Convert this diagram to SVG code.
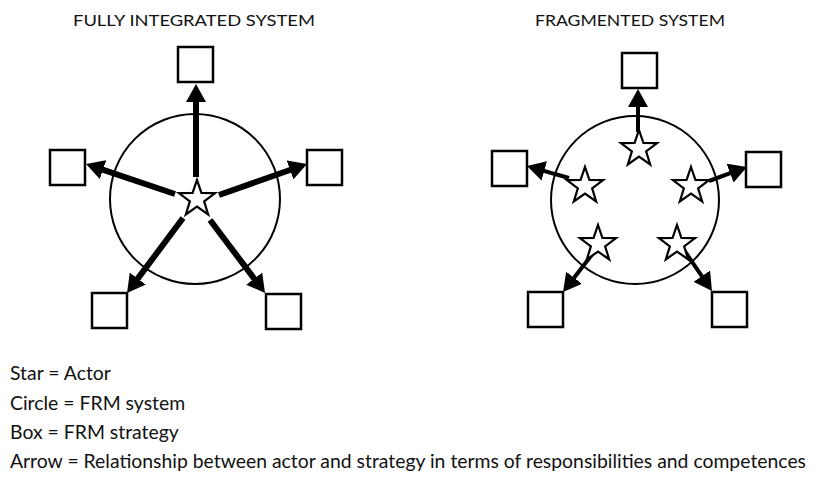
<svg xmlns="http://www.w3.org/2000/svg" xmlns:xlink="http://www.w3.org/1999/xlink" width="813" height="477" viewBox="0 0 813 477">
<style>
.title{font-family:Lato,"Open Sans","Liberation Sans",sans-serif;font-size:16px;fill:#111}
.legend{font-family:Lato,"Open Sans","Liberation Sans",sans-serif;font-size:19.4px;fill:#111}
.ring{fill:none;stroke:#000;stroke-width:2}
.box{fill:#fff;stroke:#000;stroke-width:2.5}
.star{fill:#fff;stroke:#000;stroke-width:2.2;stroke-linejoin:miter}
.thick{stroke:#000;stroke-width:6;fill:none}
.thin{stroke:#000;stroke-width:4;fill:none}
</style>
<defs>
<marker id="head" viewBox="0 0 18 20" refX="6" refY="10" markerWidth="18" markerHeight="20" markerUnits="userSpaceOnUse" orient="auto">
<path d="M0,0 L18,10 L0,20 Z" fill="#000"/>
</marker>
<path id="starShape" d="M0,-19 L4.41,-6.07 L18.07,-5.87 L7.13,2.32 L11.17,15.37 L0,7.5 L-11.17,15.37 L-7.13,2.32 L-18.07,-5.87 L-4.41,-6.07 Z"/>
</defs>
<rect width="813" height="477" fill="#fff"/>

<text class="title" x="73" y="26" textLength="242" lengthAdjust="spacingAndGlyphs">FULLY INTEGRATED SYSTEM</text>
<text class="title" x="535" y="26" textLength="190" lengthAdjust="spacingAndGlyphs">FRAGMENTED SYSTEM</text>

<!-- Left: fully integrated -->
<g id="circle-integrated"><circle class="ring" cx="195" cy="199" r="85"/></g>
<g id="connectors-integrated">
<line class="thick" x1="196" y1="177" x2="196" y2="96" marker-end="url(#head)"/>
<line class="thick" x1="175" y1="194" x2="97.4" y2="167.8" marker-end="url(#head)"/>
<line class="thick" x1="219" y1="195" x2="295.7" y2="168" marker-end="url(#head)"/>
<line class="thick" x1="183" y1="218" x2="134.2" y2="283.4" marker-end="url(#head)"/>
<line class="thick" x1="210" y1="220" x2="257.8" y2="283.4" marker-end="url(#head)"/>
</g>
<g id="actor-integrated"><use xlink:href="#starShape" class="star" x="197" y="199"/></g>
<g id="box-int-top"><rect class="box" x="178" y="47" width="35" height="35"/></g>
<g id="box-int-left"><rect class="box" x="50" y="150" width="35" height="35"/></g>
<g id="box-int-right"><rect class="box" x="307" y="150" width="35" height="35"/></g>
<g id="box-int-bl"><rect class="box" x="92" y="293" width="35" height="35"/></g>
<g id="box-int-br"><rect class="box" x="266" y="294" width="35" height="35"/></g>

<!-- Right: fragmented -->
<g id="circle-fragmented"><circle class="ring" cx="635" cy="200" r="84"/></g>
<g id="connectors-fragmented">
<line class="thin" x1="638" y1="132" x2="638" y2="101" marker-end="url(#head)"/>
<line class="thin" x1="569" y1="178" x2="538.5" y2="169.3" marker-end="url(#head)"/>
<line class="thin" x1="709" y1="181" x2="735.7" y2="171.1" marker-end="url(#head)"/>
<line class="thin" x1="594" y1="252" x2="570.4" y2="282.5" marker-end="url(#head)"/>
<line class="thin" x1="684" y1="250" x2="705.2" y2="281.1" marker-end="url(#head)"/>
</g>
<g id="actor-frag-top"><use xlink:href="#starShape" class="star" x="639" y="149"/></g>
<g id="actor-frag-left"><use xlink:href="#starShape" class="star" x="585" y="186"/></g>
<g id="actor-frag-right"><use xlink:href="#starShape" class="star" x="691" y="186"/></g>
<g id="actor-frag-bl"><use xlink:href="#starShape" class="star" x="598" y="244"/></g>
<g id="actor-frag-br"><use xlink:href="#starShape" class="star" x="677" y="244"/></g>
<g id="box-frag-top"><rect class="box" x="622" y="53" width="35" height="35"/></g>
<g id="box-frag-left"><rect class="box" x="492" y="151" width="35" height="35"/></g>
<g id="box-frag-right"><rect class="box" x="746" y="152" width="35" height="35"/></g>
<g id="box-frag-bl"><rect class="box" x="528" y="292" width="35" height="35"/></g>
<g id="box-frag-br"><rect class="box" x="712" y="292" width="35" height="35"/></g>

<g id="legend">
<text class="legend" x="10" y="380">Star = Actor</text>
<text class="legend" x="10" y="410">Circle = FRM system</text>
<text class="legend" x="10" y="439">Box = FRM strategy</text>
<text class="legend" x="10" y="468" textLength="796" lengthAdjust="spacingAndGlyphs">Arrow = Relationship between actor and strategy in terms of responsibilities and competences</text>
</g>
</svg>
